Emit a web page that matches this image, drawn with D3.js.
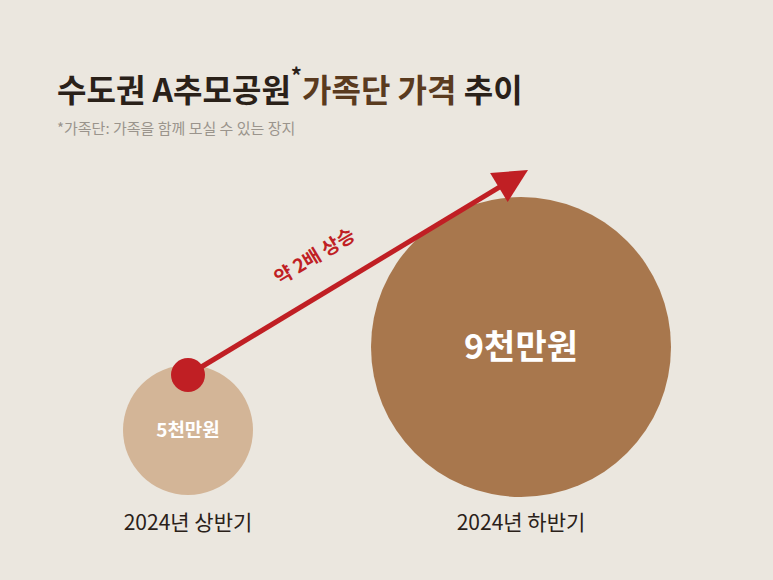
<!DOCTYPE html><html><head><meta charset="utf-8"><script src="https://cdn.jsdelivr.net/npm/d3@7"></script>
<style>body{margin:0;background:#ebe7df}svg{display:block}</style></head><body><script>
const categories=["2024년 상반기","2024년 하반기"];
const values=[5,9];
const valueLabels=["5천만원","9천만원"];
const colors=["#d3b597","#a8774d"];
const W=773,H=580,F="'Noto Sans CJK KR','Noto Sans',sans-serif";
const svg=d3.select("body").append("svg").attr("width",W).attr("height",H);
svg.append("rect").attr("width",W).attr("height",H).attr("fill","#ebe7df");
const t=svg.append("text").attr("x",57).attr("y",102).attr("font-family",F).attr("font-size",32).attr("font-weight",700);
t.append("tspan").attr("fill","#2a2119").text("수도권 A추모공원");
t.append("tspan").attr("fill","#2a2119").attr("dy",-18).attr("font-size",22).text("*");
t.append("tspan").attr("fill","#5a3b1f").attr("dy",18).text("가족단 가격 ");
t.append("tspan").attr("fill","#2a2119").text("추이");
svg.append("text").attr("x",57).attr("y",134).attr("font-family",F).attr("font-size",15).attr("fill","#9a948c").text("*가족단: 가족을 함께 모실 수 있는 장지");
const x=d3.scalePoint().domain(categories).range([188,521]);
const r=d3.scaleLinear().domain([5,9]).range([65,150]);
const cy=d3.scaleLinear().domain([5,9]).range([430,347]);
categories.forEach((c,i)=>{
 svg.append("circle").attr("cx",x(c)).attr("cy",cy(values[i])).attr("r",r(values[i])).attr("fill",colors[i]);
 svg.append("text").attr("x",x(c)).attr("y",cy(values[i])).attr("dy","0.35em").attr("text-anchor","middle").attr("font-family",F).attr("font-weight",700).attr("fill","#fff").attr("font-size",i?34:19).text(valueLabels[i]);
 svg.append("text").attr("x",x(c)).attr("y",530).attr("text-anchor","middle").attr("font-family",F).attr("font-size",21).attr("fill","#2a2119").text(c);
});
const x0=188,y0=375,x1=528,y1=170;
const ang=Math.atan2(y1-y0,x1-x0);
svg.append("line").attr("x1",x0).attr("y1",y0).attr("x2",x1-28*Math.cos(ang)).attr("y2",y1-28*Math.sin(ang)).attr("stroke","#c01f24").attr("stroke-width",5);
svg.append("path").attr("d","M0,0 L-34,-17 L-34,17 Z").attr("fill","#c01f24").attr("transform",`translate(${x1},${y1}) rotate(${ang*180/Math.PI})`);
svg.append("circle").attr("cx",x0).attr("cy",y0).attr("r",17).attr("fill","#c01f24");
svg.append("text").attr("transform",`translate(318,262) rotate(${ang*180/Math.PI})`).attr("text-anchor","middle").attr("font-family",F).attr("font-weight",700).attr("font-size",19).attr("fill","#c01f24").text("약 2배 상승");
</script></body></html>
